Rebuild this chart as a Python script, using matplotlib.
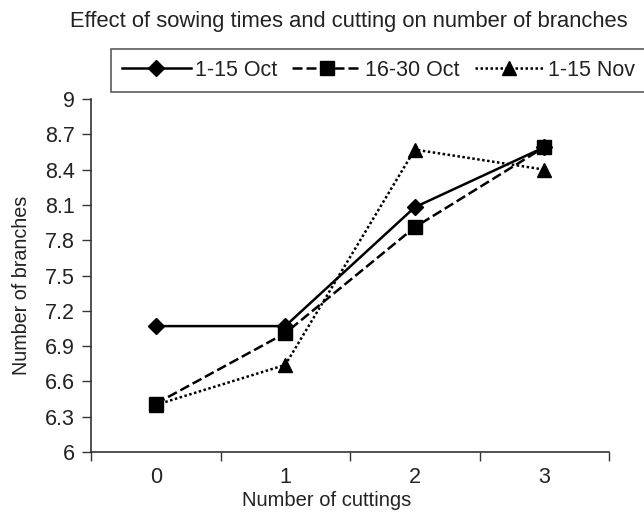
import matplotlib
matplotlib.use("Agg")
import matplotlib.pyplot as plt
from matplotlib.ticker import FixedLocator, NullFormatter

plt.rcParams['font.family'] = ['Liberation Sans', 'DejaVu Sans']

categories = ["0", "1", "2", "3"]
oct_1_15 = [7.07, 7.07, 8.08, 8.59]
oct_16_30 = [6.41, 7.01, 7.91, 8.59]
nov_1_15 = [6.40, 6.74, 8.57, 8.40]
series_labels = ["1-15 Oct", "16-30 Oct", "1-15 Nov"]
y_ticks = [6, 6.3, 6.6, 6.9, 7.2, 7.5, 7.8, 8.1, 8.4, 8.7, 9]
y_tick_labels = ["6", "6.3", "6.6", "6.9", "7.2", "7.5", "7.8", "8.1", "8.4", "8.7", "9"]

fig = plt.figure(figsize=(6.44, 5.12), dpi=100)
ax = fig.add_axes([91/644, 1 - 452/512, (609 - 91)/644, (452 - 99)/512])

x = list(range(len(categories)))
l1, = ax.plot(x, oct_1_15, color='black', lw=1.8, ls='-', marker='D', ms=8.5, mfc='black', mec='black', label=series_labels[0], zorder=3)
l2, = ax.plot(x, oct_16_30, color='black', lw=1.8, ls=(0, (4, 1.6)), marker='s', ms=10, mfc='black', mec='black', label=series_labels[1], zorder=3)
l3, = ax.plot(x, nov_1_15, color='black', lw=1.8, ls=(0, (1, 1)), marker='^', ms=10, mfc='black', mec='black', label=series_labels[2], zorder=2)

ax.set_xlim(-0.5, len(categories) - 0.5)
ax.set_ylim(6, 9)
ax.xaxis.set_major_locator(FixedLocator([i - 0.5 for i in range(len(categories) + 1)]))
ax.xaxis.set_major_formatter(NullFormatter())
ax.xaxis.set_minor_locator(FixedLocator(x))
ax.set_xticklabels(categories, minor=True)
ax.tick_params(axis='x', which='major', direction='out', length=6.5, width=1, color='#333333')
ax.tick_params(axis='x', which='minor', length=0, labelsize=15.5, pad=11, labelcolor='#222222')
ax.set_yticks(y_ticks)
ax.set_yticklabels(y_tick_labels)
ax.tick_params(axis='y', direction='out', length=6.5, width=1, labelsize=15.5, pad=5, labelcolor='#222222', color='#333333')

for s in ['top', 'right']:
    ax.spines[s].set_visible(False)
for s in ['left', 'bottom']:
    ax.spines[s].set_color('#333333')
    ax.spines[s].set_linewidth(1.2)

ax.set_xlabel("Number of cuttings", fontsize=14.5, color='#222222')
ax.xaxis.set_label_coords((327 - 91) / 518, (452 - 500) / 353)
ax.xaxis.label.set_va('center')
ax.set_ylabel("Number of branches", fontsize=14.2, color='#222222')
ax.yaxis.set_label_coords((22 - 91) / 518, (452 - 285) / 353)
ax.yaxis.label.set_va('center')

fig.text(348.5/644, 1 - 22/512, "Effect of sowing times and cutting on number of branches",
         ha='center', va='center', fontsize=15.8, color='#222222')

leg = fig.legend(handles=[l1, l2, l3], loc='upper left', bbox_to_anchor=(111/644, 1 - 49/512),
                 ncol=3, fontsize=15.5, frameon=True, fancybox=False, edgecolor='#333333',
                 handlelength=3.2, handletextpad=0.2, columnspacing=0.7, borderpad=0.5,
                 borderaxespad=0)
leg.get_frame().set_linewidth(1.2)
for t in leg.get_texts():
    t.set_color('#222222')

fig.savefig("out.png", dpi=100)
